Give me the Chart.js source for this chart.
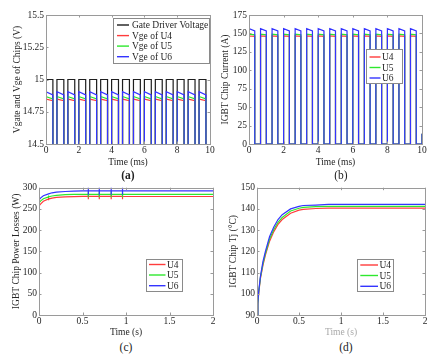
<!DOCTYPE html>
<html>
<head>
<meta charset="utf-8">
<script src="https://cdn.jsdelivr.net/npm/chart.js@4.4.1/dist/chart.umd.min.js"></script>
<style>
    body { margin: 0; background: #fff; width: 438px; height: 359px; position: relative; overflow: hidden; font-family: "Liberation Serif", "Times New Roman", serif; }
    canvas { position: absolute; }
    .cap { position: absolute; font-size: 11.5px; color: #222; transform: translate(-50%, -50%); }
</style>
</head>
<body>
<canvas id="chartA" width="219" height="172" style="left:0;top:0"></canvas>
<canvas id="chartB" width="219" height="172" style="left:219px;top:0"></canvas>
<canvas id="chartC" width="219" height="160" style="left:0;top:180px"></canvas>
<canvas id="chartD" width="219" height="160" style="left:219px;top:180px"></canvas>
<div class="cap" style="left:128px;top:175px;font-weight:bold">(a)</div>
<div class="cap" style="left:341px;top:175px">(b)</div>
<div class="cap" style="left:126px;top:347px">(c)</div>
<div class="cap" style="left:346px;top:347px">(d)</div>
<script>
// switching edges, ms (15 pulses in the 10 ms window)
const riseTimes = [0, 0.667, 1.333, 2.0, 2.667, 3.333, 4.0, 4.667, 5.333, 6.0, 6.667, 7.333, 8.0, 8.667, 9.333];
const gateFallTimes = [0.42, 1.087, 1.753, 2.42, 3.087, 3.753, 4.42, 5.087, 5.753, 6.42, 7.087, 7.753, 8.42, 9.087, 9.753];
const currentFallTimes = [0.333, 1.0, 1.667, 2.333, 3.0, 3.667, 4.333, 5.0, 5.667, 6.333, 7.0, 7.667, 8.333, 9.0, 9.667];

// (a) voltages, V: [on-state start, on-state end]
const gateOn = [15, 15];
const gateOff = 0;
const vgeU4 = [14.848, 14.835];
const vgeU5 = [14.868, 14.85];
const vgeU6 = [14.905, 14.88];
const vgeU6Peak = 15.06;
const aYTicks = [14.5, 14.75, 15, 15.25, 15.5];
const msTicks = [0, 2, 4, 6, 8, 10];

// (b) chip currents, A
const curU4 = [146.5, 146];
const curU5 = [149, 148];
const curU6 = [156.5, 153.5];
const curU6Peak = 175;
const curEnd = [10, 14];
const bYTicks = [0, 25, 50, 75, 100, 125, 150, 175];

// (c) power losses, W
const cTime = [0, 0.003, 0.02, 0.05, 0.11, 0.15, 0.2, 0.3, 0.4, 0.5, 0.567, 0.693, 0.83, 0.96, 1.0, 1.5, 2.0];
const lossU4 = [0, 258, 262, 268, 273.5, 275.5, 277, 278.5, 279.2, 279.5, 279.5, 279.5, 279.5, 279.5, 279.3, 279.3, 279.3];
const lossU5 = [0, 265, 269, 274, 278.5, 280.5, 282, 283.5, 284.2, 284.5, 284.5, 284.5, 284.5, 284.5, 284.3, 284.3, 284.3];
const lossU6 = [0, 272, 276, 281, 285.5, 288, 289.5, 291, 292, 292.5, 292.5, 292.5, 292.5, 292.5, 292.3, 292.3, 292.3];
const spikeTimes = [0.11, 0.567, 0.693, 0.83, 0.96];
const spikeU4 = [3, 7, 7, 7, 7];
const spikeU5 = [3, 7, 7, 7, 7];
const spikeU6 = [0, 9, 9, 9, 9];
const cYTicks = [0, 50, 100, 150, 200, 250, 300];
const sTicks = [0, 0.5, 1, 1.5, 2];

// (d) junction temperature, degC
const dTime = [0, 0.01, 0.02, 0.04, 0.07, 0.1, 0.15, 0.2, 0.25, 0.3, 0.4, 0.5, 0.55, 0.7, 0.85, 1.0, 1.5, 2.0];
const tjU4 = [90, 95, 100, 107, 113.3, 118.2, 124.8, 129.3, 132.7, 135, 138, 139.4, 139.8, 140.2, 140.4, 140.4, 140.4, 140.4];
const tjU5 = [90, 95.5, 100.5, 107.5, 114, 119, 125.8, 130.3, 133.7, 136, 139, 140.3, 140.7, 141.1, 141.2, 141.2, 141.2, 141.2];
const tjU6 = [90, 96, 101, 108, 115, 120, 127, 131.5, 135, 137.3, 140, 141.2, 141.6, 141.8, 142.1, 142.1, 142.1, 142.1];
const dYTicks = [90, 100, 110, 120, 130, 140, 150];

const FONT = '"Liberation Serif", "Times New Roman", serif';
const colors = {
    black: '#1e1e1e',
    red: '#ff3c3c',
    green: '#2ee82e',
    blue: '#3434ff',
    text: '#262626',
    axis: '#9a9a9a'
};

function pulseTrain(falls, on, off, peak, endPoint) {
    const pts = [];
    riseTimes.forEach((t0, i) => {
        pts.push({ x: t0, y: off });
        if (i === 0 && peak != null) pts.push({ x: t0, y: peak });
        pts.push({ x: t0, y: on[0] });
        pts.push({ x: falls[i], y: on[1] });
        pts.push({ x: falls[i], y: off });
    });
    if (endPoint) {
        pts.push({ x: endPoint[0], y: off });
        pts.push({ x: endPoint[0], y: endPoint[1] });
    }
    return pts;
}

function withSpikes(times, values, spikes) {
    const pts = [];
    times.forEach((t, i) => {
        pts.push({ x: t, y: values[i] });
        const k = spikeTimes.indexOf(t);
        if (k >= 0 && spikes[k] > 0) {
            pts.push({ x: t, y: values[i] + spikes[k] });
            pts.push({ x: t, y: values[i] - spikes[k] });
            pts.push({ x: t, y: values[i] });
        }
    });
    return pts;
}

function curve(times, values) {
    return times.map((t, i) => ({ x: t, y: values[i] }));
}

function line(label, data, color, order) {
    return { label, data, borderColor: color, borderWidth: 1.2, pointRadius: 0, tension: 0, fill: false, order };
}

// box + inward tick marks, matlab style
const frameTicks = {
    id: 'frameTicks',
    afterDatasetsDraw(chart) {
        const { ctx, chartArea: a, scales } = chart;
        ctx.save();
        ctx.strokeStyle = colors.axis;
        ctx.lineWidth = 1;
        ctx.beginPath();
        scales.x.ticks.forEach((t) => {
            const px = Math.round(scales.x.getPixelForValue(t.value)) + 0.5;
            ctx.moveTo(px, a.bottom); ctx.lineTo(px, a.bottom - 2.5);
            ctx.moveTo(px, a.top); ctx.lineTo(px, a.top + 2.5);
        });
        scales.y.ticks.forEach((t) => {
            const py = Math.round(scales.y.getPixelForValue(t.value)) + 0.5;
            ctx.moveTo(a.left, py); ctx.lineTo(a.left + 2.5, py);
            ctx.moveTo(a.right, py); ctx.lineTo(a.right - 2.5, py);
        });
        ctx.stroke();
        ctx.strokeRect(Math.round(a.left) + 0.5, Math.round(a.top) + 0.5, Math.round(a.right - a.left), Math.round(a.bottom - a.top));
        ctx.restore();
    }
};

const boxLegend = {
    id: 'boxLegend',
    afterDraw(chart, args, opts) {
        const { ctx } = chart;
        const [bx, by, bw, bh] = opts.box;
        ctx.save();
        ctx.fillStyle = '#fff';
        ctx.fillRect(bx, by, bw, bh);
        ctx.strokeStyle = '#8a8a8a';
        ctx.lineWidth = 1;
        ctx.strokeRect(bx + 0.5, by + 0.5, bw, bh);
        ctx.font = '9.5px ' + FONT;
        ctx.textBaseline = 'middle';
        opts.items.forEach((item, i) => {
            const y = opts.rows[i];
            ctx.strokeStyle = item.color;
            ctx.lineWidth = 1.4;
            ctx.beginPath();
            ctx.moveTo(opts.lineX[0], y);
            ctx.lineTo(opts.lineX[1], y);
            ctx.stroke();
            ctx.fillStyle = colors.text;
            ctx.fillText(item.label, opts.textX, y + 0.5);
        });
        ctx.restore();
    }
};

function scales(s) {
    return {
        x: {
            type: 'linear', min: s.x[0], max: s.x[1],
            afterBuildTicks: (sc) => { sc.ticks = s.xTicks.map((v) => ({ value: v })); },
            ticks: { font: { family: FONT, size: 9.5 }, color: colors.text, padding: 1, maxRotation: 0, autoSkip: false, callback: (v) => String(v) },
            grid: { display: false, drawTicks: false },
            border: { display: false },
            title: { display: true, text: s.xTitle, color: s.xTitleColor || colors.text, font: { family: FONT, size: 9.5 }, padding: { top: 0, bottom: s.xTitlePad } },
            afterFit: (sc) => { sc.height = s.xHeight; }
        },
        y: {
            type: 'linear', min: s.y[0], max: s.y[1],
            afterBuildTicks: (sc) => { sc.ticks = s.yTicks.map((v) => ({ value: v })); },
            ticks: { font: { family: FONT, size: 9.5 }, color: colors.text, padding: 2, autoSkip: false, callback: (v) => String(v) },
            grid: { display: false, drawTicks: false },
            border: { display: false },
            title: { display: true, text: s.yTitle, color: colors.text, font: { family: FONT, size: 9.5 }, padding: { top: s.yTitlePad, bottom: 0 } },
            afterFit: (sc) => { sc.width = s.yWidth; }
        }
    };
}

function makeChart(id, datasets, s, legend) {
    return new Chart(document.getElementById(id), {
        type: 'line',
        data: { datasets },
        options: {
            responsive: false,
            animation: false,
            devicePixelRatio: 1,
            layout: { padding: s.pad },
            plugins: { legend: { display: false }, tooltip: { enabled: false }, boxLegend: legend },
            scales: scales(s)
        },
        plugins: [frameTicks, boxLegend]
    });
}

makeChart('chartA', [
    line('Gate Driver Voltage', pulseTrain(gateFallTimes, gateOn, gateOff), colors.black, 4),
    line('Vge of U4', pulseTrain(gateFallTimes, vgeU4, gateOff), colors.red, 3),
    line('Vge of U5', pulseTrain(gateFallTimes, vgeU5, gateOff), colors.green, 2),
    line('Vge of U6', pulseTrain(gateFallTimes, vgeU6, gateOff, vgeU6Peak), colors.blue, 1)
], {
    x: [0, 10], xTicks: msTicks, xTitle: 'Time (ms)', xTitlePad: 4.3, xHeight: 28,
    y: [14.5, 15.5], yTicks: aYTicks, yTitle: 'Vgate and Vge of Chips (V)', yTitlePad: 11.5, yWidth: 46,
    pad: { top: 15, right: 9, left: 0, bottom: 0 }
}, {
    box: [113, 18, 96, 45], rows: [25, 35.6, 46.1, 56.7], lineX: [117, 129], textX: 132,
    items: [
        { label: 'Gate Driver Voltage', color: colors.black },
        { label: 'Vge of U4', color: colors.red },
        { label: 'Vge of U5', color: colors.green },
        { label: 'Vge of U6', color: colors.blue }
    ]
});

makeChart('chartB', [
    line('U4', pulseTrain(currentFallTimes, curU4, 0, null, curEnd), colors.red, 3),
    line('U5', pulseTrain(currentFallTimes, curU5, 0, null, curEnd), colors.green, 2),
    line('U6', pulseTrain(currentFallTimes, curU6, 0, curU6Peak, curEnd), colors.blue, 1)
], {
    x: [0, 10], xTicks: msTicks, xTitle: 'Time (ms)', xTitlePad: 4.3, xHeight: 28,
    y: [0, 175], yTicks: bYTicks, yTitle: 'IGBT Chip Current (A)', yTitlePad: 0.8, yWidth: 30,
    pad: { top: 15, right: 16, left: 0, bottom: 0 }
}, {
    box: [147, 49, 36, 34], rows: [57, 67.5, 78], lineX: [150.5, 161.5], textX: 163,
    items: [
        { label: 'U4', color: colors.red },
        { label: 'U5', color: colors.green },
        { label: 'U6', color: colors.blue }
    ]
});

makeChart('chartC', [
    line('U4', withSpikes(cTime, lossU4, spikeU4), colors.red, 3),
    line('U5', withSpikes(cTime, lossU5, spikeU5), colors.green, 2),
    line('U6', withSpikes(cTime, lossU6, spikeU6), colors.blue, 1)
], {
    x: [0, 2], xTicks: sTicks, xTitle: 'Time (s)', xTitlePad: 2.3, xHeight: 25,
    y: [0, 300], yTicks: cYTicks, yTitle: 'IGBT Chip Power Losses (W)', yTitlePad: 10.8, yWidth: 39,
    pad: { top: 7, right: 6, left: 0, bottom: 0 }
}, {
    box: [146, 79, 36, 32], rows: [84.5, 95, 105.7], lineX: [149, 165.5], textX: 167,
    items: [
        { label: 'U4', color: colors.red },
        { label: 'U5', color: colors.green },
        { label: 'U6', color: colors.blue }
    ]
});

makeChart('chartD', [
    line('U4', curve(dTime, tjU4), colors.red, 3),
    line('U5', curve(dTime, tjU5), colors.green, 2),
    line('U6', curve(dTime, tjU6), colors.blue, 1)
], {
    x: [0, 2], xTicks: sTicks, xTitle: 'Time (s)', xTitleColor: '#a8a8a8', xTitlePad: 2.3, xHeight: 25,
    y: [90, 150], yTicks: dYTicks, yTitle: 'IGBT Chip Tj (°C)', yTitlePad: 8.3, yWidth: 38,
    pad: { top: 7, right: 13, left: 0, bottom: 0 }
}, {
    box: [138, 79, 36, 32], rows: [85, 95.5, 106.3], lineX: [141.3, 159], textX: 160.5,
    items: [
        { label: 'U4', color: colors.red },
        { label: 'U5', color: colors.green },
        { label: 'U6', color: colors.blue }
    ]
});
</script>
</body>
</html>
